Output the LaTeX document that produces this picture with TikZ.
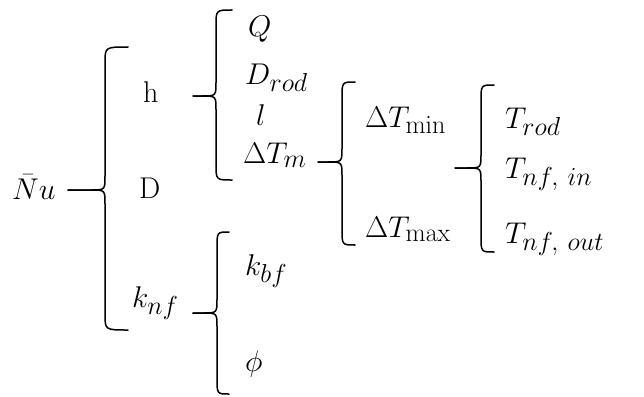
\RequirePackage{fix-cm}
\documentclass[tikz,border=0pt]{standalone}
\usepackage{amsmath}
\DeclareMathSizes{30}{30}{26}{20}
\tikzset{
  brace/.style={line width=1.5pt, line cap=round},
  term/.style={anchor=base west, inner sep=0pt, font=\fontsize{30}{36}\selectfont}
}
% tip x, stem x, hook x, top y, mid y, bottom y
\newcommand{\curly}[6]{%
  \draw[brace] (#3,#4) .. controls (#2,#4) .. (#2,#4+16) -- (#2,#5-14)
    .. controls (#2,#5) .. (#2-14,#5) -- (#1,#5);
  \draw[brace] (#1,#5) -- (#2-14,#5) .. controls (#2,#5) .. (#2,#5+14)
    -- (#2,#6-16) .. controls (#2,#6) .. (#3,#6);}

\begin{document}
\begin{tikzpicture}[x=1pt, y=-1pt]
\useasboundingbox (0,0) rectangle (644,396);
% terms
\node[term] (nu) at (12,199) {$\bar{N}u$};
\node[term] (h) at (143,102) {h};
\node[term] (d) at (139,198) {D};
\node[term] (knf) at (132,307) {$k_{nf}$};
\node[term] (q) at (248,37) {$Q$};
\node[term] (drod) at (245,84) {$D_{rod}$};
\node[term] (l) at (256,125) {$l$};
\node[term] (dtm) at (243,163) {$\Delta T_m$};
\node[term] (dtmin) at (365,127) {$\Delta T_{\min}$};
\node[term] (dtmax) at (365,237) {$\Delta T_{\max}$};
\node[term] (trod) at (505,128) {$T_{rod}$};
\node[term] (tin) at (505,178) {$T_{nf,\ in}$};
\node[term] (tout) at (505,243) {$T_{nf,\ out}$};
\node[term] (kbf) at (245,275) {$k_{bf}$};
\node[term] (phi) at (245,371) {$\phi$};
% braces
\curly{68}{105}{128}{47}{190}{330}
\curly{193}{216}{232}{10}{96}{180}
\curly{318}{342}{355}{82}{162}{245}
\curly{455}{481}{494}{85}{168}{252}
\curly{193}{217}{229}{232}{313}{394}
\end{tikzpicture}
\end{document}
